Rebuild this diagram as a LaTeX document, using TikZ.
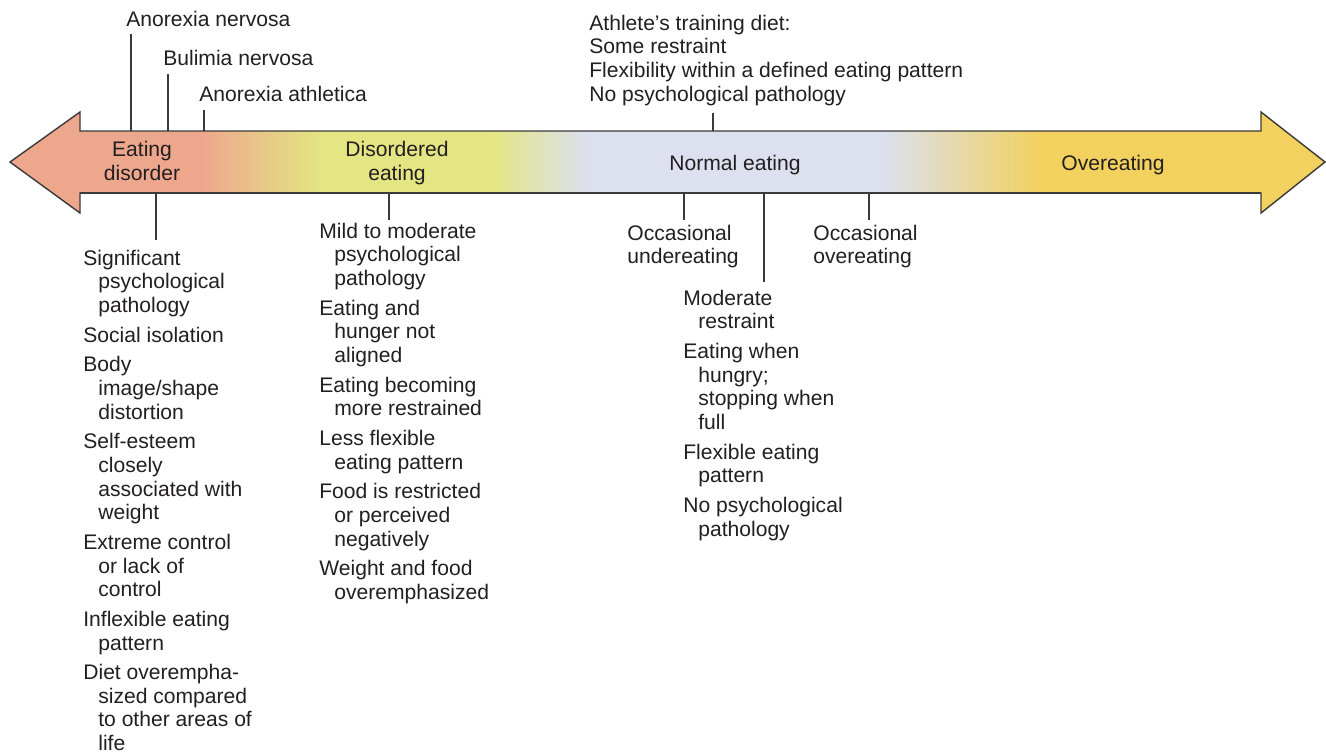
\documentclass[tikz,border=0pt]{standalone}
\usepackage{fontspec}
\setmainfont{Liberation Sans}
\usepackage{tikz}
\usetikzlibrary{calc}
\definecolor{ink}{HTML}{231F20}
\definecolor{edge}{HTML}{3A3A3A}
\definecolor{salmon}{HTML}{EDA78D}
\definecolor{lime}{HTML}{E3E683}
\definecolor{lilac}{HTML}{DCE0EF}
\definecolor{gold}{HTML}{F2D15E}
\newcommand{\hind}{\hspace*{0.3cm}}
\newcommand{\gap}{3.3pt}
\tikzset{
  lbl/.style={inner sep=0pt,anchor=base west,align=left,text=ink,
              font=\fontsize{12}{13.5}\selectfont},
  listlbl/.style={lbl,anchor=north west},
  bandlbl/.style={inner sep=0pt,anchor=base,align=center,text=ink,
                  font=\fontsize{12}{13.5}\selectfont},
  tick/.style={draw=edge,line width=0.6pt},
  outline/.style={draw=edge,line width=0.8pt,line join=miter}
}

\begin{document}
\begin{tikzpicture}[x=0.02cm,y=-0.02cm]
  \useasboundingbox (0,0) rectangle (1326,755);

  % colour bands of the arrow
  \fill[salmon] (10,162) -- (80,112) -- (80,213) -- cycle;
  \fill[salmon] (79,131) rectangle (201,193);
  \shade[left color=salmon,right color=lime] (200,131) rectangle (321,193);
  \fill[lime] (320,131) rectangle (494,193);
  \shade[left color=lime,right color=lilac] (493,131) rectangle (588,193);
  \fill[lilac] (587,131) rectangle (884,193);
  \shade[left color=lilac,right color=gold] (883,131) rectangle (1041,193);
  \fill[gold] (1040,131) rectangle (1262,193);
  \fill[gold] (1261,112) -- (1325,162) -- (1261,213) -- cycle;
  \draw[outline] (10,162) -- (80,112) -- (80,131) -- (1261,131) -- (1261,112)
    -- (1325,162) -- (1261,213) -- (1261,193) -- (80,193) -- (80,213) -- cycle;
  \draw[edge,line width=1.6pt] (80,193) -- (1261,193);

  \node[bandlbl] (ed) at (142,180) {Eating\\disorder};
  \node[bandlbl] (de) at (397,180) {Disordered\\eating};
  \node[bandlbl] (ne) at (735,170) {Normal eating};
  \node[bandlbl] (oe) at (1113,170) {Overeating};

  % points on the arrow edges
  \coordinate (anT) at (131,131);
  \coordinate (bnT) at (168,131);
  \coordinate (aaT) at (204,131);
  \coordinate (atT) at (713,131);
  \coordinate (edT) at (156,193);
  \coordinate (deT) at (389,193);
  \coordinate (ueT) at (684,193);
  \coordinate (mrT) at (764,193);
  \coordinate (ovT) at (869,193);

  % above the arrow
  \node[lbl] (an) at (126,26) {Anorexia nervosa};
  \node[lbl] (bn) at (163,65) {Bulimia nervosa};
  \node[lbl] (aa) at (199,101) {Anorexia athletica};
  \node[listlbl] (at) at (589,14.6) {Athlete's training diet:\\Some restraint\\
    Flexibility within a defined eating pattern\\No psychological pathology};
  \draw[tick,shorten <=4pt] (an.south -| anT) -- (anT);
  \draw[tick,shorten <=5pt] (bn.south -| bnT) -- (bnT);
  \draw[tick,shorten <=5pt] (aa.south -| aaT) -- (aaT);
  \draw[tick,shorten <=3.7pt] (at.south -| atT) -- (atT);

  % below the arrow
  \node[listlbl] (edl) at (83,249.6) {Significant\\\hind psychological\\\hind pathology\\[\gap]
    Social isolation\\[\gap]
    Body\\\hind image/shape\\\hind distortion\\[\gap]
    Self-esteem\\\hind closely\\\hind associated with\\\hind weight\\[\gap]
    Extreme control\\\hind or lack of\\\hind control\\[\gap]
    Inflexible eating\\\hind pattern\\[\gap]
    Diet overempha-\\\hind sized compared\\\hind to other areas of\\\hind life};
  \node[listlbl] (del) at (319,222.6) {Mild to moderate\\\hind psychological\\\hind pathology\\[\gap]
    Eating and\\\hind hunger not\\\hind aligned\\[\gap]
    Eating becoming\\\hind more restrained\\[\gap]
    Less flexible\\\hind eating pattern\\[\gap]
    Food is restricted\\\hind or perceived\\\hind negatively\\[\gap]
    Weight and food\\\hind overemphasized};
  \node[listlbl] (ue) at (627,224.6) {Occasional\\undereating};
  \node[listlbl] (ov) at (813,224.6) {Occasional\\overeating};
  \node[listlbl] (mr) at (683,289.6) {Moderate\\\hind restraint\\[\gap]
    Eating when\\\hind hungry;\\\hind stopping when\\\hind full\\[\gap]
    Flexible eating\\\hind pattern\\[\gap]
    No psychological\\\hind pathology};
  \draw[tick,shorten >=5.5pt] (edT) -- (edT |- edl.north);
  \draw[tick,shorten >=1.7pt] (deT) -- (deT |- del.north);
  \draw[tick,shorten >=2.5pt] (ueT) -- (ueT |- ue.north);
  \draw[tick,shorten >=4.3pt] (mrT) -- (mrT |- mr.north);
  \draw[tick,shorten >=2.5pt] (ovT) -- (ovT |- ov.north);
\end{tikzpicture}
\end{document}
